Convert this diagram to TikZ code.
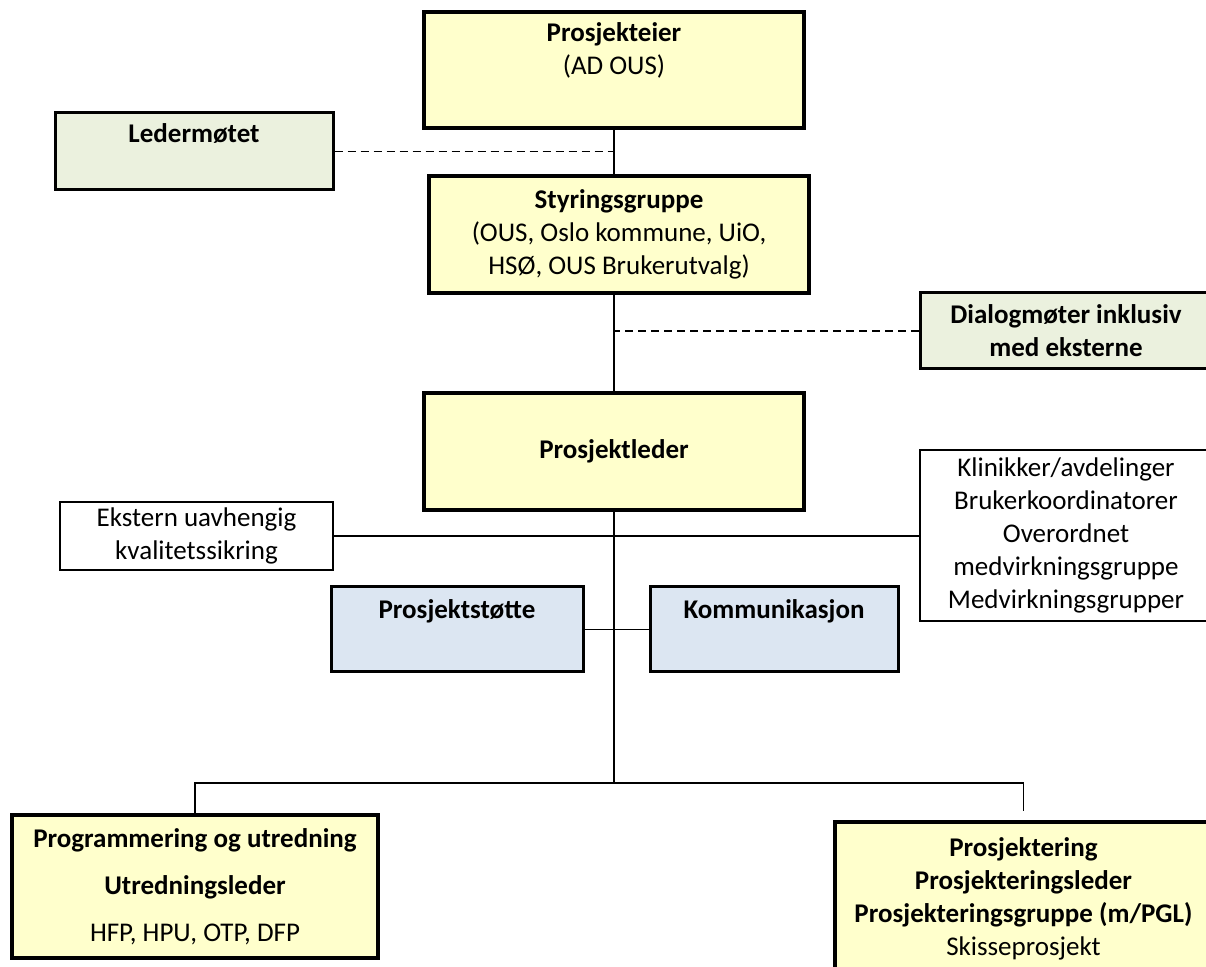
\documentclass[tikz,border=0pt]{standalone}
\usepackage{fontspec}
\setmainfont{Carlito}
\usetikzlibrary{calc}

\definecolor{boxyellow}{HTML}{FFFFCC}
\definecolor{boxgreen}{HTML}{EBF1DE}
\definecolor{boxblue}{HTML}{DCE6F2}

\begin{document}
\begin{tikzpicture}[x=0.5pt,y=-0.5pt,
		every node/.style={font=\fontsize{13.5}{16.5}\selectfont,align=center,inner sep=0pt},
		yellowbox/.style={draw,fill=boxyellow,line width=1.6pt},
		greenbox/.style={draw,fill=boxgreen,line width=1.5pt},
		bluebox/.style={draw,fill=boxblue,line width=1.5pt},
		plainbox/.style={draw,fill=white,line width=0.8pt},
		link/.style={line width=0.75pt},
		dlink/.style={line width=0.9pt,dash pattern=on 4pt off 2.5pt}
		]
		\useasboundingbox (0,0) rectangle (1206,967);
		\coordinate (spine) at (614,0);

		\node[yellowbox,minimum width=190pt,minimum height=58pt] (eier) at (614,70) {};
		\node (eiertxt) at ([yshift=-20pt]eier.north) {\textbf{Prosjekteier}\\(AD OUS)};
		\node[greenbox,minimum width=139pt,minimum height=38.5pt] (leder) at (194,151.5) {};
		\node (ledertxt) at ([yshift=-11pt]leder.north) {\textbf{Ledermøtet}};
		\node[yellowbox,minimum width=190pt,minimum height=58.5pt] (styring) at (619,234.5) {\textbf{Styringsgruppe}\\(OUS, Oslo kommune, UiO,\\HSØ, OUS Brukerutvalg)};
		\node[greenbox,minimum width=146pt,minimum height=38pt] (dialog) at (1066,331) {\textbf{Dialogmøter inklusiv}\\\textbf{med eksterne}};
		\node[yellowbox,minimum width=190pt,minimum height=58.5pt] (pleder) at (614,451.5) {\textbf{Prosjektleder}};
		\node[plainbox,minimum width=136.5pt,minimum height=34pt] (ekstern) at (196.5,536) {Ekstern uavhengig\\kvalitetssikring};
		\node[plainbox,minimum width=146pt,minimum height=85.5pt] (klinikk) at (1066,535.5) {Klinikker/avdelinger\\Brukerkoordinatorer\\Overordnet\\medvirkningsgruppe\\Medvirkningsgrupper};
		\node[bluebox,minimum width=126pt,minimum height=42.5pt] (stotte) at (457,629.5) {};
		\node (stottetxt) at ([yshift=-13pt]stotte.north) {\textbf{Prosjektstøtte}};
		\node[bluebox,minimum width=124pt,minimum height=42.5pt] (komm) at (774,629.5) {};
		\node (kommtxt) at ([yshift=-13pt]komm.north) {\textbf{Kommunikasjon}};
		\node[yellowbox,minimum width=183pt,minimum height=71.5pt] (prog) at (195,886.5) {\textbf{Programmering og utredning}\\[7pt]\textbf{Utredningsleder}\\[7pt]HFP, HPU, OTP, DFP};
		\node[yellowbox,minimum width=188.5pt,minimum height=76.5pt] (prosj) at (1023.5,898.5) {\textbf{Prosjektering}\\\textbf{Prosjekteringsleder}\\\textbf{Prosjekteringsgruppe (m/PGL)}\\Skisseprosjekt};

		% connectors
		\coordinate (fork) at (614,783);
		\coordinate (prosjtop) at ([yshift=4.5pt]prosj.north);
		\draw[link] (eier.south -| spine) -- (styring.north -| spine);
		\draw[link] (styring.south -| spine) -- (pleder.north -| spine);
		\draw[link] (pleder.south -| spine) -- (fork);
		\draw[dlink] (leder.east) -- (leder.east -| spine);
		\draw[dlink] (dialog.west) -- (dialog.west -| spine);
		\draw[link] (ekstern.east) -- (ekstern.east -| klinikk.west);
		\draw[link] (stotte.east) -- (komm.west);
		\draw[link] (prog.north) |- (fork) -| (prosjtop);
\end{tikzpicture}
\end{document}
